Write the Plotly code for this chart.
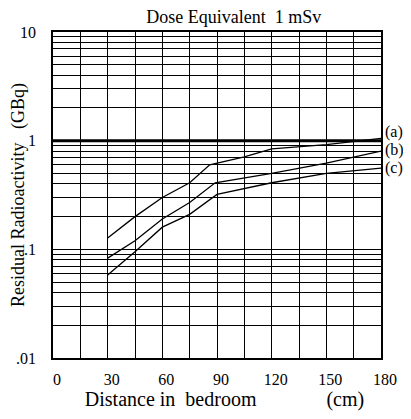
"""Residual radioactivity vs distance in bedroom (dose equivalent 1 mSv)"""

import plotly.graph_objects as go

# Distances (cm) and residual radioactivity (GBq)
dist_a = [30, 45, 60, 75, 86, 105, 120, 150, 180]
act_a = [0.127, 0.20, 0.30, 0.41, 0.60, 0.71, 0.84, 0.92, 1.05]

dist_b = [30, 45, 60, 75, 89, 120, 150, 180]
act_b = [0.083, 0.12, 0.19, 0.27, 0.41, 0.50, 0.62, 0.80]

dist_c = [30, 45, 60, 75, 90, 120, 150, 180]
act_c = [0.058, 0.095, 0.16, 0.21, 0.32, 0.41, 0.50, 0.56]

limit_x = [0, 180]
limit_y = [1, 1]

x_ticks = [0, 30, 60, 90, 120, 150, 180]
x_minor = [15, 45, 75, 105, 135, 165]
y_ticks = [0.01, 0.1, 1, 10]
y_labels = ['.01', '.1', '1', '10']
y_minor = [m * d for d in [0.01, 0.1, 1] for m in range(2, 10)]
curve_labels = ['(a)', '(b)', '(c)']

font = 'Liberation Serif, Times New Roman, serif'

fig = go.Figure()

# thick reference line at 1 GBq
fig.add_trace(go.Scatter(x=limit_x, y=limit_y, mode='lines',
                         line=dict(color='black', width=3), showlegend=False))

for xs, ys in [(dist_a, act_a), (dist_b, act_b), (dist_c, act_c)]:
    fig.add_trace(go.Scatter(x=xs, y=ys, mode='lines',
                             line=dict(color='black', width=1.3), showlegend=False))

# page body adds an 8px offset, so the figure is 8px smaller
fig.update_layout(
    width=403, height=411,
    margin=dict(l=45, r=30, t=24, b=61),
    plot_bgcolor='white', paper_bgcolor='white',
    font=dict(family=font, color='black', size=16),
    title=dict(text='Dose Equivalent  1 mSv', x=0.56, xanchor='center',
               yref='container', y=0.978, yanchor='middle', font=dict(size=18)),
    xaxis=dict(range=[0, 180], tickvals=x_ticks, showgrid=True, automargin=False,
               gridcolor='black', gridwidth=1,
               minor=dict(tickvals=x_minor, showgrid=True, gridcolor='black', gridwidth=1),
               showline=True, linecolor='black', linewidth=1.5, mirror=True,
               ticks='', zeroline=False, ticklabelstandoff=6, ticklabelshift=4,
               title=dict(text='&nbsp;&nbsp;&nbsp;Distance in  bedroom              (cm)',
                          standoff=2, font=dict(size=20))),
    yaxis=dict(type='log', range=[-2, 1], tickvals=y_ticks, ticktext=y_labels,
               automargin=False, ticklabelstandoff=12,
               showgrid=True, gridcolor='black', gridwidth=1,
               minor=dict(tickvals=y_minor, showgrid=True, gridcolor='black', gridwidth=1),
               showline=True, linecolor='black', linewidth=1.5, mirror=True,
               ticks='', zeroline=False,
               title=dict(text='Residual Radioactivity   (GBq)', standoff=2,
                          font=dict(size=18))),
)

# curve labels on the right
label_pos = [0.08, -0.086, -0.25]
for txt, ly in zip(curve_labels, label_pos):
    fig.add_annotation(text=txt, xref='paper', yref='y', x=1.005, y=ly,
                       xanchor='left', showarrow=False, font=dict(size=16))

fig.write_html("out.html")
